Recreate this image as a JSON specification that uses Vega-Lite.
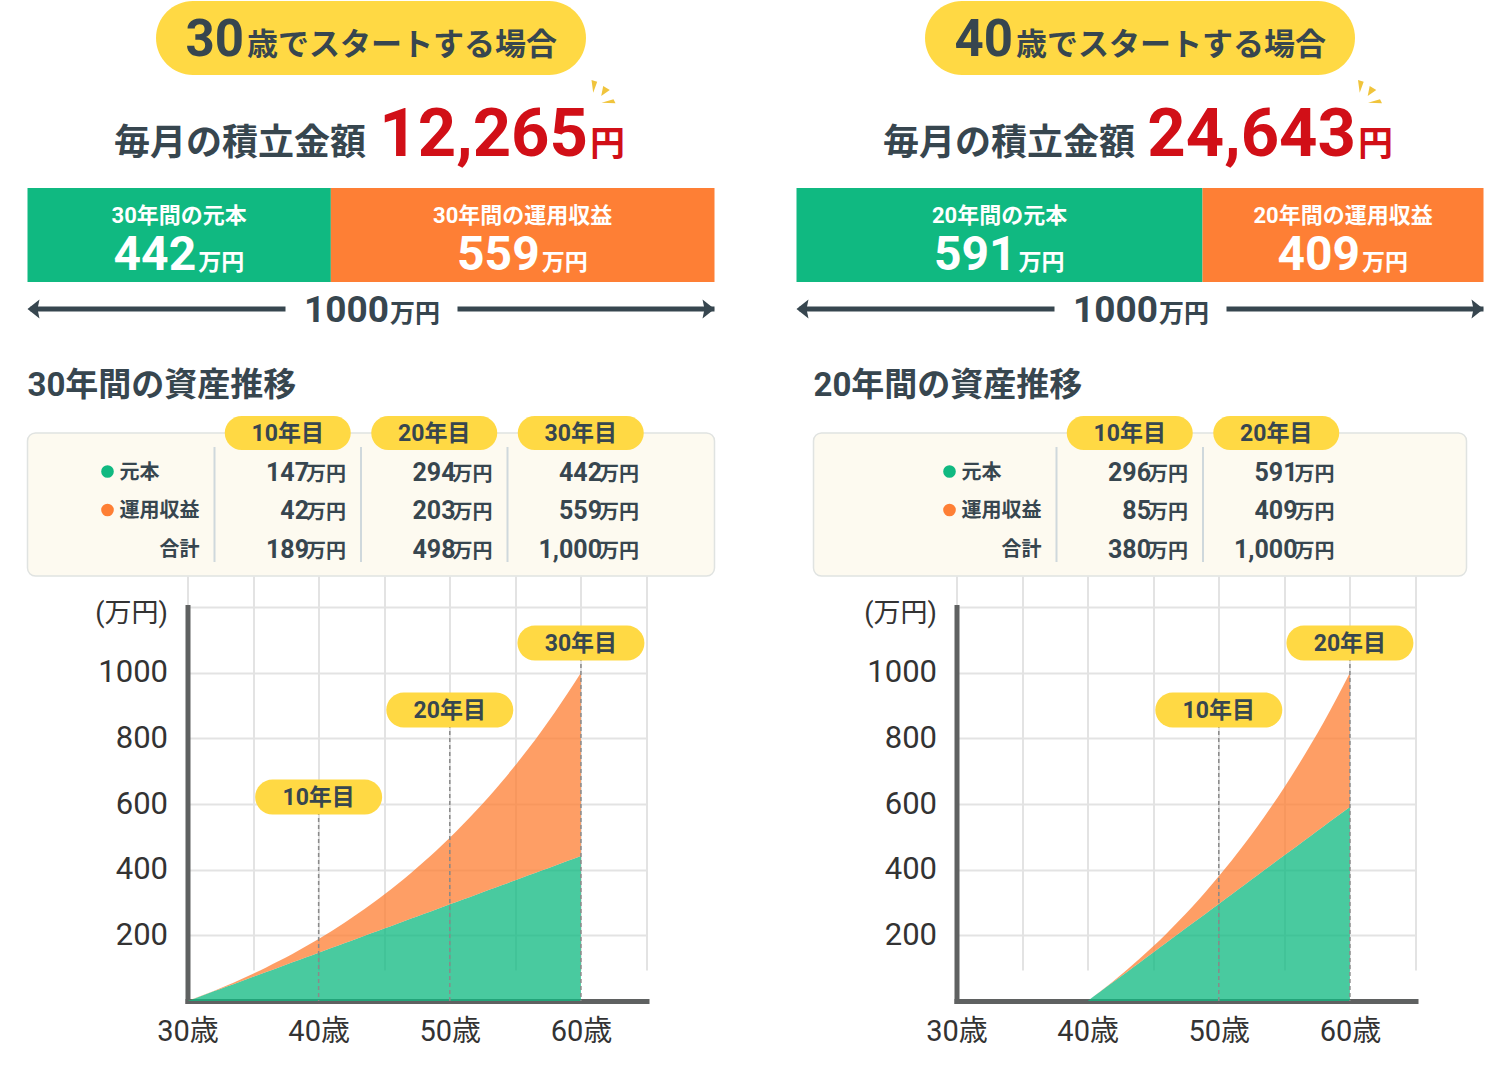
{
"$schema":"https://vega.github.io/schema/vega-lite/v6.json",
"padding":{"left":24.5,"right":27,"top":0,"bottom":0},
"background":"white",
"spacing":76,
"config":{"view":{"stroke":null},"font":"Roboto, 'Noto Sans CJK JP', sans-serif"},
"hconcat":[
{
"bounds":"flush","spacing":0,
"vconcat":[
  {"width":687,"height":76,
   "data":{"values":[{"age":"30","rest":"歳でスタートする場合"}]},
   "layer":[
    {"mark":{"type":"point","shape":"M-178,-37H178A37,37 0 0 1 178,37H-178A37,37 0 0 1 -178,-37Z","size":4,"filled":true,"fill":"#ffd944","opacity":1,"strokeWidth":0},"encoding":{}},
    {"mark":{"type":"text","align":"right","baseline":"alphabetic","dx":-127,"dy":18,"fontSize":51,"fontWeight":"bold","color":"#37464f"},"encoding":{"text":{"field":"age","type":"nominal"}}},
    {"mark":{"type":"text","align":"left","baseline":"alphabetic","dx":-124,"dy":17,"fontSize":31,"fontWeight":"bold","color":"#37464f"},"encoding":{"text":{"field":"rest","type":"nominal"}}}
   ]},
  {"width":687,"height":112,
   "data":{"values":[{"label":"毎月の積立金額","amount":12265,"unit":"円"}]},
   "layer":[
    {"mark":{"type":"text","align":"right","baseline":"alphabetic","dx":-5,"dy":23,"fontSize":36,"fontWeight":"bold","color":"#37464f"},"encoding":{"text":{"field":"label","type":"nominal"}}},
    {"mark":{"type":"text","align":"right","baseline":"alphabetic","dx":217,"dy":24,"fontSize":67,"fontWeight":"bold","color":"#d10f17"},"encoding":{"text":{"field":"amount","type":"quantitative","format":","}}},
    {"mark":{"type":"text","align":"left","baseline":"alphabetic","dx":219,"dy":24,"fontSize":35,"fontWeight":"bold","color":"#d10f17"},"encoding":{"text":{"field":"unit","type":"nominal"}}},
    {"mark":{"type":"point","shape":"M220.5,-52L226.2,-50.3L222.2,-39.3ZM232.2,-46L238.8,-42L230.2,-36ZM230.5,-29.3L242.5,-32.7L244.5,-28.7Z","size":4,"filled":true,"fill":"#f0c43c","opacity":1,"strokeWidth":0},"encoding":{}}
   ]},
  {"width":687,"height":94,
   "data":{"values":[{"kind":"元本","label":"30年間の元本","value":442,"period":"30年間"},{"kind":"運用収益","label":"30年間の運用収益","value":559,"period":"30年間"}]},
   "transform":[{"stack":"value","groupby":["period"],"sort":[{"field":"kind","order":"ascending"}],"as":["v0","v1"]}],
   "layer":[
    {"mark":{"type":"bar"},
     "encoding":{
      "x":{"field":"v0","type":"quantitative","scale":{"domain":[0,1001],"nice":false},"axis":null},
      "x2":{"field":"v1"},
      "y":{"field":"period","type":"nominal","scale":{"paddingInner":0,"paddingOuter":0},"axis":null},
      "color":{"field":"kind","type":"nominal","scale":{"domain":["元本","運用収益"],"range":["#10b981","#fe7f35"]},"legend":null}}},
    {"transform":[{"fold":["v0","v1"],"as":["edge","pos"]},{"aggregate":[{"op":"mean","field":"pos","as":"mid"}],"groupby":["kind","label","value"]}],
     "layer":[
      {"mark":{"type":"text","align":"center","baseline":"alphabetic","dy":-12,"fontSize":22,"fontWeight":"bold","color":"white"},"encoding":{"x":{"field":"mid","type":"quantitative","axis":null},"text":{"field":"label","type":"nominal"}}},
      {"mark":{"type":"text","align":"right","baseline":"alphabetic","dx":17,"dy":35,"fontSize":48,"fontWeight":"bold","color":"white"},"encoding":{"x":{"field":"mid","type":"quantitative","axis":null},"text":{"field":"value","type":"nominal"}}},
      {"mark":{"type":"text","align":"left","baseline":"alphabetic","dx":19,"dy":35,"fontSize":23,"fontWeight":"bold","color":"white"},"encoding":{"x":{"field":"mid","type":"quantitative","axis":null},"text":{"value":"万円"}}}
     ]}
   ]},
  {"width":687,"height":151,
   "data":{"values":[{"start":0,"total":1000,"row":"arrow"}]},
   "encoding":{"y":{"field":"row","type":"nominal","scale":{"type":"point","padding":0,"align":0.179},"axis":null}},
   "layer":[
    {"mark":{"type":"rule","color":"#37464f","strokeWidth":5,"strokeDash":[0,3,255,172,1000]},"encoding":{"x":{"field":"start","type":"quantitative","scale":{"domain":[0,1000],"nice":false},"axis":null},"x2":{"field":"total"}}},
    {"mark":{"type":"point","shape":"M0,0L12,-9.5L10,0L12,9.5Z","size":4,"filled":true,"fill":"#37464f","opacity":1,"strokeWidth":0},"encoding":{"x":{"field":"start","type":"quantitative","axis":null}}},
    {"mark":{"type":"point","shape":"M0,0L-12,-9.5L-10,0L-12,9.5Z","size":4,"filled":true,"fill":"#37464f","opacity":1,"strokeWidth":0},"encoding":{"x":{"field":"total","type":"quantitative","axis":null}}},
    {"mark":{"type":"text","align":"right","baseline":"alphabetic","dx":18,"dy":13,"fontSize":37,"fontWeight":"bold","color":"#37464f"},"encoding":{"text":{"field":"total","type":"nominal"}}},
    {"mark":{"type":"text","align":"left","baseline":"alphabetic","dx":19,"dy":13,"fontSize":25,"fontWeight":"bold","color":"#37464f"},"encoding":{"text":{"value":"万円"}}}
   ]},
  {"width":687,"height":143,
   "view":{"fill":"#fdfaf0","stroke":"#e0e3e1","strokeWidth":1.5,"cornerRadius":8},
   "title":{"text":"30年間の資産推移","anchor":"start","frame":"group","offset":37,"dy":50,"baseline":"alphabetic","fontSize":33,"fontWeight":"bold","color":"#37464f"},
   "data":{"values":[
    {"row":"元本","col":"10年目","value":147},{"row":"元本","col":"20年目","value":294},{"row":"元本","col":"30年目","value":442},
    {"row":"運用収益","col":"10年目","value":42},{"row":"運用収益","col":"20年目","value":203},{"row":"運用収益","col":"30年目","value":559},
    {"row":"合計","col":"10年目","value":189},{"row":"合計","col":"20年目","value":498},{"row":"合計","col":"30年目","value":1000}]},
   "layer":[
    {"data":{"values":[{"row":"header","col":"10年目"},{"row":"header","col":"20年目"},{"row":"header","col":"30年目"}]},
     "layer":[
      {"mark":{"type":"rule","color":"#cfd8dc","strokeWidth":2,"strokeDash":[0,14,115,100]},
       "encoding":{"x":{"field":"col","type":"nominal","bandPosition":0,"scale":{"type":"band","domain":["項目","10年目","20年目","30年目"],"paddingInner":0,"paddingOuter":0.3447,"align":0.401},"axis":null}}},
      {"mark":{"type":"point","shape":"M-46,-17H46A17,17 0 0 1 46,17H-46A17,17 0 0 1 -46,-17Z","size":4,"filled":true,"fill":"#ffd944","opacity":1,"strokeWidth":0},
       "encoding":{"x":{"field":"col","type":"nominal","axis":null},"y":{"field":"row","type":"nominal","scale":{"type":"point","domain":["header","元本","運用収益","合計"],"padding":0.357,"align":0},"axis":null}}},
      {"mark":{"type":"text","baseline":"alphabetic","dy":8,"fontSize":23,"fontWeight":"bold","color":"#37464f"},
       "encoding":{"x":{"field":"col","type":"nominal","axis":null},"y":{"field":"row","type":"nominal","axis":null},"text":{"field":"col","type":"nominal"}}}
     ]},
    {"mark":{"type":"text","align":"right","baseline":"alphabetic","dx":-52,"dy":9,"fontWeight":"bold","color":"#37464f"},
     "encoding":{"x":{"field":"col","type":"nominal","bandPosition":1,"axis":null},"y":{"field":"row","type":"nominal","axis":null},"text":{"field":"value","type":"quantitative","format":","},"size":{"field":"row","type":"ordinal","scale":{"domain":["元本","運用収益","合計"],"range":[25,25,29]},"legend":null}}},
    {"mark":{"type":"text","align":"right","baseline":"alphabetic","dx":-15,"dy":9,"fontSize":20,"fontWeight":"bold","color":"#37464f"},
     "encoding":{"x":{"field":"col","type":"nominal","bandPosition":1,"axis":null},"y":{"field":"row","type":"nominal","axis":null},"text":{"value":"万円"}}},
    {"data":{"values":[{"row":"元本","col":"項目"},{"row":"運用収益","col":"項目"}]},
     "layer":[
      {"mark":{"type":"circle","size":160,"xOffset":39.5,"opacity":1},
       "encoding":{"x":{"field":"col","type":"nominal","bandPosition":0,"axis":null},"y":{"field":"row","type":"nominal","axis":null},"color":{"field":"row","type":"nominal","scale":{"domain":["元本","運用収益"],"range":["#10b981","#fe7f35"]},"legend":null}}},
      {"mark":{"type":"text","align":"left","baseline":"alphabetic","dx":51.5,"dy":7,"fontSize":20,"fontWeight":"bold","color":"#37464f"},
       "encoding":{"x":{"field":"col","type":"nominal","bandPosition":0,"axis":null},"y":{"field":"row","type":"nominal","axis":null},"text":{"field":"row","type":"nominal"}}}
     ]},
    {"data":{"values":[{"row":"合計","col":"項目"}]},
     "mark":{"type":"text","align":"right","baseline":"alphabetic","dx":-15,"dy":7,"fontSize":20,"fontWeight":"bold","color":"#37464f"},
     "encoding":{"x":{"field":"col","type":"nominal","bandPosition":1,"axis":null},"y":{"field":"row","type":"nominal","axis":null},"text":{"field":"row","type":"nominal"}}}
   ]},
  {"width":687,"height":425,
   "layer":[
    {"data":{"values":[
      {"age":30,"元本":0,"運用収益":0},{"age":31,"元本":14.7,"運用収益":0.3},{"age":32,"元本":29.4,"運用収益":1.4},{"age":33,"元本":44.2,"運用収益":3.2},{"age":34,"元本":58.9,"運用収益":5.8},{"age":35,"元本":73.6,"運用収益":9.4},{"age":36,"元本":88.3,"運用収益":13.9},{"age":37,"元本":103.0,"運用収益":19.3},{"age":38,"元本":117.7,"運用収益":25.8},{"age":39,"元本":132.5,"運用収益":33.2},{"age":40,"元本":147.2,"運用収益":41.8},{"age":41,"元本":161.9,"運用収益":51.6},{"age":42,"元本":176.6,"運用収益":62.6},{"age":43,"元本":191.3,"運用収益":74.9},{"age":44,"元本":206.1,"運用収益":88.5},{"age":45,"元本":220.8,"運用収益":103.6},{"age":46,"元本":235.5,"運用収益":120.1},{"age":47,"元本":250.2,"運用収益":138.3},{"age":48,"元本":264.9,"運用収益":158.1},{"age":49,"元本":279.6,"運用収益":179.6},{"age":50,"元本":294.4,"運用収益":202.8},{"age":51,"元本":309.1,"運用収益":228.1},{"age":52,"元本":323.8,"運用収益":255.3},{"age":53,"元本":338.5,"運用収益":284.6},{"age":54,"元本":353.2,"運用収益":316.2},{"age":55,"元本":368.0,"運用収益":349.9},{"age":56,"元本":382.7,"運用収益":386.3},{"age":57,"元本":397.4,"運用収益":425.1},{"age":58,"元本":412.1,"運用収益":466.7},{"age":59,"元本":426.8,"運用収益":511.0},{"age":60,"元本":442,"運用収益":558}]},
     "transform":[{"fold":["元本","運用収益"],"as":["kind","value"]},{"stack":"value","groupby":["age"],"sort":[{"field":"kind","order":"ascending"}],"as":["v0","v1"]}],
     "mark":{"type":"area","interpolate":"monotone","opacity":0.76},
     "encoding":{
      "x":{"field":"age","type":"quantitative","scale":{"domain":[30,65],"range":[160,619],"nice":false,"zero":false},
           "axis":{"values":[30,35,40,45,50,55,60,65],"labelExpr":"datum.value % 10 === 0 && datum.value < 65 ? datum.value + '歳' : ''","domain":true,"domainColor":"#5f6161","domainWidth":5,"domainCap":"square","ticks":false,"grid":true,"gridColor":"#e3e3e3","gridWidth":2,"labelFontSize":29,"labelColor":"#333333","labelPadding":16,"labelFlush":false,"labelOverlap":false,"title":null}},
      "y":{"field":"v1","type":"quantitative","scale":{"domain":[0,1200],"range":[425,31],"nice":false},
           "axis":{"values":[0,200,400,600,800,1000,1200],"format":"d","labelExpr":"datum.value === 1200 || datum.value === 0 ? '' : datum.label","offset":-160,"domain":true,"domainColor":"#5f6161","domainWidth":5,"domainCap":"square","ticks":false,"grid":true,"gridColor":"#e3e3e3","gridWidth":2,"labelFontSize":31,"labelColor":"#333333","labelPadding":20,"labelFlush":false,"labelOverlap":false,
                   "title":"(万円)","titleAngle":0,"titleAlign":"right","titleBaseline":"middle","titleAnchor":"end","titleX":-20,"titleY":37,"titleFontSize":27,"titleFontWeight":"normal","titleColor":"#333333"}},
      "y2":{"field":"v0"},
      "color":{"field":"kind","type":"nominal","scale":{"domain":["元本","運用収益"],"range":["#10b981","#fe7f35"]},"legend":null}}},
    {"data":{"values":[{"age":40,"label":"10年目","at":621,"base":0},{"age":50,"label":"20年目","at":886,"base":0},{"age":60,"label":"30年目","at":1090,"base":0}]},
     "layer":[
      {"mark":{"type":"rule","color":"#8a8a8a","strokeWidth":1.5,"strokeDash":[4,3]},"encoding":{"x":{"field":"age","type":"quantitative"},"y":{"field":"at","type":"quantitative"},"y2":{"field":"base"}}},
      {"mark":{"type":"point","shape":"M-46,-17.5H46A17.5,17.5 0 0 1 46,17.5H-46A17.5,17.5 0 0 1 -46,-17.5Z","size":4,"filled":true,"fill":"#ffd944","opacity":1,"strokeWidth":0},"encoding":{"x":{"field":"age","type":"quantitative"},"y":{"field":"at","type":"quantitative"}}},
      {"mark":{"type":"text","baseline":"alphabetic","dy":8,"fontSize":23,"fontWeight":"bold","color":"#37464f"},"encoding":{"x":{"field":"age","type":"quantitative"},"y":{"field":"at","type":"quantitative"},"text":{"field":"label","type":"nominal"}}}
     ]}
   ]}
]},
{
"bounds":"flush","spacing":0,"center":true,
"vconcat":[
  {"width":687,"height":76,
   "data":{"values":[{"age":"40","rest":"歳でスタートする場合"}]},
   "layer":[
    {"mark":{"type":"point","shape":"M-178,-37H178A37,37 0 0 1 178,37H-178A37,37 0 0 1 -178,-37Z","size":4,"filled":true,"fill":"#ffd944","opacity":1,"strokeWidth":0},"encoding":{}},
    {"mark":{"type":"text","align":"right","baseline":"alphabetic","dx":-127,"dy":18,"fontSize":51,"fontWeight":"bold","color":"#37464f"},"encoding":{"text":{"field":"age","type":"nominal"}}},
    {"mark":{"type":"text","align":"left","baseline":"alphabetic","dx":-124,"dy":17,"fontSize":31,"fontWeight":"bold","color":"#37464f"},"encoding":{"text":{"field":"rest","type":"nominal"}}}
   ]},
  {"width":687,"height":112,
   "data":{"values":[{"label":"毎月の積立金額","amount":24643,"unit":"円"}]},
   "layer":[
    {"mark":{"type":"text","align":"right","baseline":"alphabetic","dx":-5,"dy":23,"fontSize":36,"fontWeight":"bold","color":"#37464f"},"encoding":{"text":{"field":"label","type":"nominal"}}},
    {"mark":{"type":"text","align":"right","baseline":"alphabetic","dx":216,"dy":24,"fontSize":67,"fontWeight":"bold","color":"#d10f17"},"encoding":{"text":{"field":"amount","type":"quantitative","format":","}}},
    {"mark":{"type":"text","align":"left","baseline":"alphabetic","dx":218,"dy":24,"fontSize":35,"fontWeight":"bold","color":"#d10f17"},"encoding":{"text":{"field":"unit","type":"nominal"}}},
    {"mark":{"type":"point","shape":"M218,-52L223.7,-50.3L219.7,-39.3ZM229.7,-46L236.3,-42L227.7,-36ZM228,-29.3L240,-32.7L242,-28.7Z","size":4,"filled":true,"fill":"#f0c43c","opacity":1,"strokeWidth":0},"encoding":{}}
   ]},
  {"width":687,"height":94,
   "data":{"values":[{"kind":"元本","label":"20年間の元本","value":591,"period":"20年間"},{"kind":"運用収益","label":"20年間の運用収益","value":409,"period":"20年間"}]},
   "transform":[{"stack":"value","groupby":["period"],"sort":[{"field":"kind","order":"ascending"}],"as":["v0","v1"]}],
   "layer":[
    {"mark":{"type":"bar"},
     "encoding":{
      "x":{"field":"v0","type":"quantitative","scale":{"domain":[0,1000],"nice":false},"axis":null},
      "x2":{"field":"v1"},
      "y":{"field":"period","type":"nominal","scale":{"paddingInner":0,"paddingOuter":0},"axis":null},
      "color":{"field":"kind","type":"nominal","scale":{"domain":["元本","運用収益"],"range":["#10b981","#fe7f35"]},"legend":null}}},
    {"transform":[{"fold":["v0","v1"],"as":["edge","pos"]},{"aggregate":[{"op":"mean","field":"pos","as":"mid"}],"groupby":["kind","label","value"]}],
     "layer":[
      {"mark":{"type":"text","align":"center","baseline":"alphabetic","dy":-12,"fontSize":22,"fontWeight":"bold","color":"white"},"encoding":{"x":{"field":"mid","type":"quantitative","axis":null},"text":{"field":"label","type":"nominal"}}},
      {"mark":{"type":"text","align":"right","baseline":"alphabetic","dx":17,"dy":35,"fontSize":48,"fontWeight":"bold","color":"white"},"encoding":{"x":{"field":"mid","type":"quantitative","axis":null},"text":{"field":"value","type":"nominal"}}},
      {"mark":{"type":"text","align":"left","baseline":"alphabetic","dx":19,"dy":35,"fontSize":23,"fontWeight":"bold","color":"white"},"encoding":{"x":{"field":"mid","type":"quantitative","axis":null},"text":{"value":"万円"}}}
     ]}
   ]},
  {"width":687,"height":151,
   "data":{"values":[{"start":0,"total":1000,"row":"arrow"}]},
   "encoding":{"y":{"field":"row","type":"nominal","scale":{"type":"point","padding":0,"align":0.179},"axis":null}},
   "layer":[
    {"mark":{"type":"rule","color":"#37464f","strokeWidth":5,"strokeDash":[0,3,255,172,1000]},"encoding":{"x":{"field":"start","type":"quantitative","scale":{"domain":[0,1000],"nice":false},"axis":null},"x2":{"field":"total"}}},
    {"mark":{"type":"point","shape":"M0,0L12,-9.5L10,0L12,9.5Z","size":4,"filled":true,"fill":"#37464f","opacity":1,"strokeWidth":0},"encoding":{"x":{"field":"start","type":"quantitative","axis":null}}},
    {"mark":{"type":"point","shape":"M0,0L-12,-9.5L-10,0L-12,9.5Z","size":4,"filled":true,"fill":"#37464f","opacity":1,"strokeWidth":0},"encoding":{"x":{"field":"total","type":"quantitative","axis":null}}},
    {"mark":{"type":"text","align":"right","baseline":"alphabetic","dx":18,"dy":13,"fontSize":37,"fontWeight":"bold","color":"#37464f"},"encoding":{"text":{"field":"total","type":"nominal"}}},
    {"mark":{"type":"text","align":"left","baseline":"alphabetic","dx":19,"dy":13,"fontSize":25,"fontWeight":"bold","color":"#37464f"},"encoding":{"text":{"value":"万円"}}}
   ]},
  {"width":653,"height":143,
   "view":{"fill":"#fdfaf0","stroke":"#e0e3e1","strokeWidth":1.5,"cornerRadius":8},
   "title":{"text":"20年間の資産推移","anchor":"start","frame":"group","offset":37,"dy":50,"baseline":"alphabetic","fontSize":33,"fontWeight":"bold","color":"#37464f"},
   "data":{"values":[
    {"row":"元本","col":"10年目","value":296},{"row":"元本","col":"20年目","value":591},
    {"row":"運用収益","col":"10年目","value":85},{"row":"運用収益","col":"20年目","value":409},
    {"row":"合計","col":"10年目","value":380},{"row":"合計","col":"20年目","value":1000}]},
   "layer":[
    {"data":{"values":[{"row":"header","col":"10年目"},{"row":"header","col":"20年目"}]},
     "layer":[
      {"mark":{"type":"rule","color":"#cfd8dc","strokeWidth":2,"strokeDash":[0,14,115,100]},
       "encoding":{"x":{"field":"col","type":"nominal","bandPosition":0,"scale":{"type":"band","domain":["項目","10年目","20年目"],"paddingInner":0,"paddingOuter":0.7287,"align":0.452},"axis":null}}},
      {"mark":{"type":"point","shape":"M-46,-17H46A17,17 0 0 1 46,17H-46A17,17 0 0 1 -46,-17Z","size":4,"filled":true,"fill":"#ffd944","opacity":1,"strokeWidth":0},
       "encoding":{"x":{"field":"col","type":"nominal","axis":null},"y":{"field":"row","type":"nominal","scale":{"type":"point","domain":["header","元本","運用収益","合計"],"padding":0.357,"align":0},"axis":null}}},
      {"mark":{"type":"text","baseline":"alphabetic","dy":8,"fontSize":23,"fontWeight":"bold","color":"#37464f"},
       "encoding":{"x":{"field":"col","type":"nominal","axis":null},"y":{"field":"row","type":"nominal","axis":null},"text":{"field":"col","type":"nominal"}}}
     ]},
    {"mark":{"type":"text","align":"right","baseline":"alphabetic","dx":-52,"dy":9,"fontWeight":"bold","color":"#37464f"},
     "encoding":{"x":{"field":"col","type":"nominal","bandPosition":1,"axis":null},"y":{"field":"row","type":"nominal","axis":null},"text":{"field":"value","type":"quantitative","format":","},"size":{"field":"row","type":"ordinal","scale":{"domain":["元本","運用収益","合計"],"range":[25,25,29]},"legend":null}}},
    {"mark":{"type":"text","align":"right","baseline":"alphabetic","dx":-15,"dy":9,"fontSize":20,"fontWeight":"bold","color":"#37464f"},
     "encoding":{"x":{"field":"col","type":"nominal","bandPosition":1,"axis":null},"y":{"field":"row","type":"nominal","axis":null},"text":{"value":"万円"}}},
    {"data":{"values":[{"row":"元本","col":"項目"},{"row":"運用収益","col":"項目"}]},
     "layer":[
      {"mark":{"type":"circle","size":160,"xOffset":39.5,"opacity":1},
       "encoding":{"x":{"field":"col","type":"nominal","bandPosition":0,"axis":null},"y":{"field":"row","type":"nominal","axis":null},"color":{"field":"row","type":"nominal","scale":{"domain":["元本","運用収益"],"range":["#10b981","#fe7f35"]},"legend":null}}},
      {"mark":{"type":"text","align":"left","baseline":"alphabetic","dx":51.5,"dy":7,"fontSize":20,"fontWeight":"bold","color":"#37464f"},
       "encoding":{"x":{"field":"col","type":"nominal","bandPosition":0,"axis":null},"y":{"field":"row","type":"nominal","axis":null},"text":{"field":"row","type":"nominal"}}}
     ]},
    {"data":{"values":[{"row":"合計","col":"項目"}]},
     "mark":{"type":"text","align":"right","baseline":"alphabetic","dx":-15,"dy":7,"fontSize":20,"fontWeight":"bold","color":"#37464f"},
     "encoding":{"x":{"field":"col","type":"nominal","bandPosition":1,"axis":null},"y":{"field":"row","type":"nominal","axis":null},"text":{"field":"row","type":"nominal"}}}
   ]},
  {"width":687,"height":425,
   "layer":[
    {"data":{"values":[
      {"age":40,"元本":0,"運用収益":0},{"age":41,"元本":29.6,"運用収益":0.6},{"age":42,"元本":59.1,"運用収益":2.7},{"age":43,"元本":88.7,"運用収益":6.4},{"age":44,"元本":118.3,"運用収益":11.7},{"age":45,"元本":147.9,"運用収益":18.8},{"age":46,"元本":177.4,"運用収益":27.8},{"age":47,"元本":207.0,"運用収益":38.6},{"age":48,"元本":236.6,"運用収益":51.5},{"age":49,"元本":266.1,"運用収益":66.5},{"age":50,"元本":295.7,"運用収益":84.3},{"age":51,"元本":325.3,"運用収益":103.4},{"age":52,"元本":354.8,"運用収益":125.5},{"age":53,"元本":384.4,"運用収益":150.2},{"age":54,"元本":414.0,"運用収益":177.5},{"age":55,"元本":443.6,"運用収益":207.7},{"age":56,"元本":473.1,"運用収益":241.0},{"age":57,"元本":502.7,"運用収益":277.4},{"age":58,"元本":532.3,"運用収益":317.0},{"age":59,"元本":561.8,"運用収益":361.0},{"age":60,"元本":591,"運用収益":409}]},
     "transform":[{"fold":["元本","運用収益"],"as":["kind","value"]},{"stack":"value","groupby":["age"],"sort":[{"field":"kind","order":"ascending"}],"as":["v0","v1"]}],
     "mark":{"type":"area","interpolate":"monotone","opacity":0.76},
     "encoding":{
      "x":{"field":"age","type":"quantitative","scale":{"domain":[30,65],"range":[160,619],"nice":false,"zero":false},
           "axis":{"values":[30,35,40,45,50,55,60,65],"labelExpr":"datum.value % 10 === 0 && datum.value < 65 ? datum.value + '歳' : ''","domain":true,"domainColor":"#5f6161","domainWidth":5,"domainCap":"square","ticks":false,"grid":true,"gridColor":"#e3e3e3","gridWidth":2,"labelFontSize":29,"labelColor":"#333333","labelPadding":16,"labelFlush":false,"labelOverlap":false,"title":null}},
      "y":{"field":"v1","type":"quantitative","scale":{"domain":[0,1200],"range":[425,31],"nice":false},
           "axis":{"values":[0,200,400,600,800,1000,1200],"format":"d","labelExpr":"datum.value === 1200 || datum.value === 0 ? '' : datum.label","offset":-160,"domain":true,"domainColor":"#5f6161","domainWidth":5,"domainCap":"square","ticks":false,"grid":true,"gridColor":"#e3e3e3","gridWidth":2,"labelFontSize":31,"labelColor":"#333333","labelPadding":20,"labelFlush":false,"labelOverlap":false,
                   "title":"(万円)","titleAngle":0,"titleAlign":"right","titleBaseline":"middle","titleAnchor":"end","titleX":-20,"titleY":37,"titleFontSize":27,"titleFontWeight":"normal","titleColor":"#333333"}},
      "y2":{"field":"v0"},
      "color":{"field":"kind","type":"nominal","scale":{"domain":["元本","運用収益"],"range":["#10b981","#fe7f35"]},"legend":null}}},
    {"data":{"values":[{"age":50,"label":"10年目","at":886,"base":0},{"age":60,"label":"20年目","at":1090,"base":0}]},
     "layer":[
      {"mark":{"type":"rule","color":"#8a8a8a","strokeWidth":1.5,"strokeDash":[4,3]},"encoding":{"x":{"field":"age","type":"quantitative"},"y":{"field":"at","type":"quantitative"},"y2":{"field":"base"}}},
      {"mark":{"type":"point","shape":"M-46,-17.5H46A17.5,17.5 0 0 1 46,17.5H-46A17.5,17.5 0 0 1 -46,-17.5Z","size":4,"filled":true,"fill":"#ffd944","opacity":1,"strokeWidth":0},"encoding":{"x":{"field":"age","type":"quantitative"},"y":{"field":"at","type":"quantitative"}}},
      {"mark":{"type":"text","baseline":"alphabetic","dy":8,"fontSize":23,"fontWeight":"bold","color":"#37464f"},"encoding":{"x":{"field":"age","type":"quantitative"},"y":{"field":"at","type":"quantitative"},"text":{"field":"label","type":"nominal"}}}
     ]}
   ]}
]}
]
}
